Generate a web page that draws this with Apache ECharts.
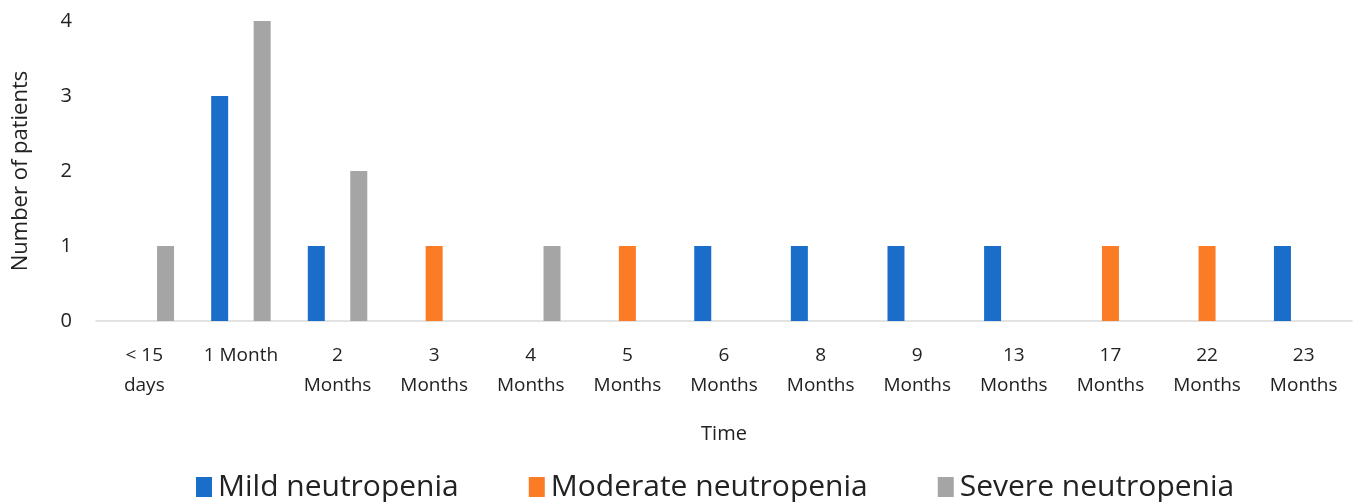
<!DOCTYPE html>
<html>
<head>
<meta charset="utf-8">
<script src="https://cdn.jsdelivr.net/npm/echarts@6/dist/echarts.min.js"></script>
<style>
  html, body { margin: 0; padding: 0; background: #fff; }
  #chart { width: 1359px; height: 502px; }
</style>
</head>
<body>
<div id="chart"></div>
<script>
var categories = ['< 15\ndays', '1 Month', '2\nMonths', '3\nMonths', '4\nMonths', '5\nMonths',
    '6\nMonths', '8\nMonths', '9\nMonths', '13\nMonths', '17\nMonths', '22\nMonths', '23\nMonths'];
var mild = [0, 3, 1, 0, 0, 0, 1, 1, 1, 1, 0, 0, 1];
var moderate = [0, 0, 0, 1, 0, 1, 0, 0, 0, 0, 1, 1, 0];
var severe = [1, 4, 2, 0, 1, 0, 0, 0, 0, 0, 0, 0, 0];
var yTicks = [0, 1, 2, 3, 4];

var font = 'Open Sans';
var chart = echarts.init(document.getElementById('chart'));
var option = {
    animation: false,
    textStyle: { fontFamily: font },
    color: ['#1a6ec9', '#fb7c24', '#a5a5a5'],
    grid: { left: 96, right: 7, top: 21, bottom: 181, outerBoundsMode: 'none' },
    legend: {
        top: 467,
        left: 191,
        itemWidth: 16,
        itemHeight: 20,
        itemGap: 70,
        icon: 'rect',
        textStyle: { fontSize: 30, color: '#222', fontFamily: font, padding: [0, 0, 0, 1] },
        data: ['Mild neutropenia', 'Moderate neutropenia', 'Severe neutropenia']
    },
    xAxis: {
        type: 'category',
        data: categories,
        name: 'Time',
        nameLocation: 'middle',
        nameGap: 103,
        nameTextStyle: { fontSize: 20, color: '#222' },
        axisLine: { lineStyle: { color: '#d9d9d9', width: 1.5 } },
        axisTick: { show: false },
        axisLabel: { fontSize: 19, color: '#222', lineHeight: 30, margin: 20, interval: 0 }
    },
    yAxis: {
        type: 'value',
        min: yTicks[0],
        max: yTicks[yTicks.length - 1],
        interval: 1,
        name: 'Number of patients',
        nameLocation: 'middle',
        nameGap: 64,
        nameTextStyle: { fontSize: 22, color: '#222' },
        axisLine: { show: false },
        axisTick: { show: false },
        splitLine: { show: false },
        axisLabel: { fontSize: 20, color: '#222', margin: 24 }
    },
    series: [
        { name: 'Mild neutropenia', type: 'bar', data: mild, barWidth: 17, barGap: '25%' },
        { name: 'Moderate neutropenia', type: 'bar', data: moderate, barWidth: 17, barGap: '25%' },
        { name: 'Severe neutropenia', type: 'bar', data: severe, barWidth: 17, barGap: '25%' }
    ]
};
chart.setOption(option);
window.onresize = function () {
    chart.resize();
};
</script>
</body>
</html>
